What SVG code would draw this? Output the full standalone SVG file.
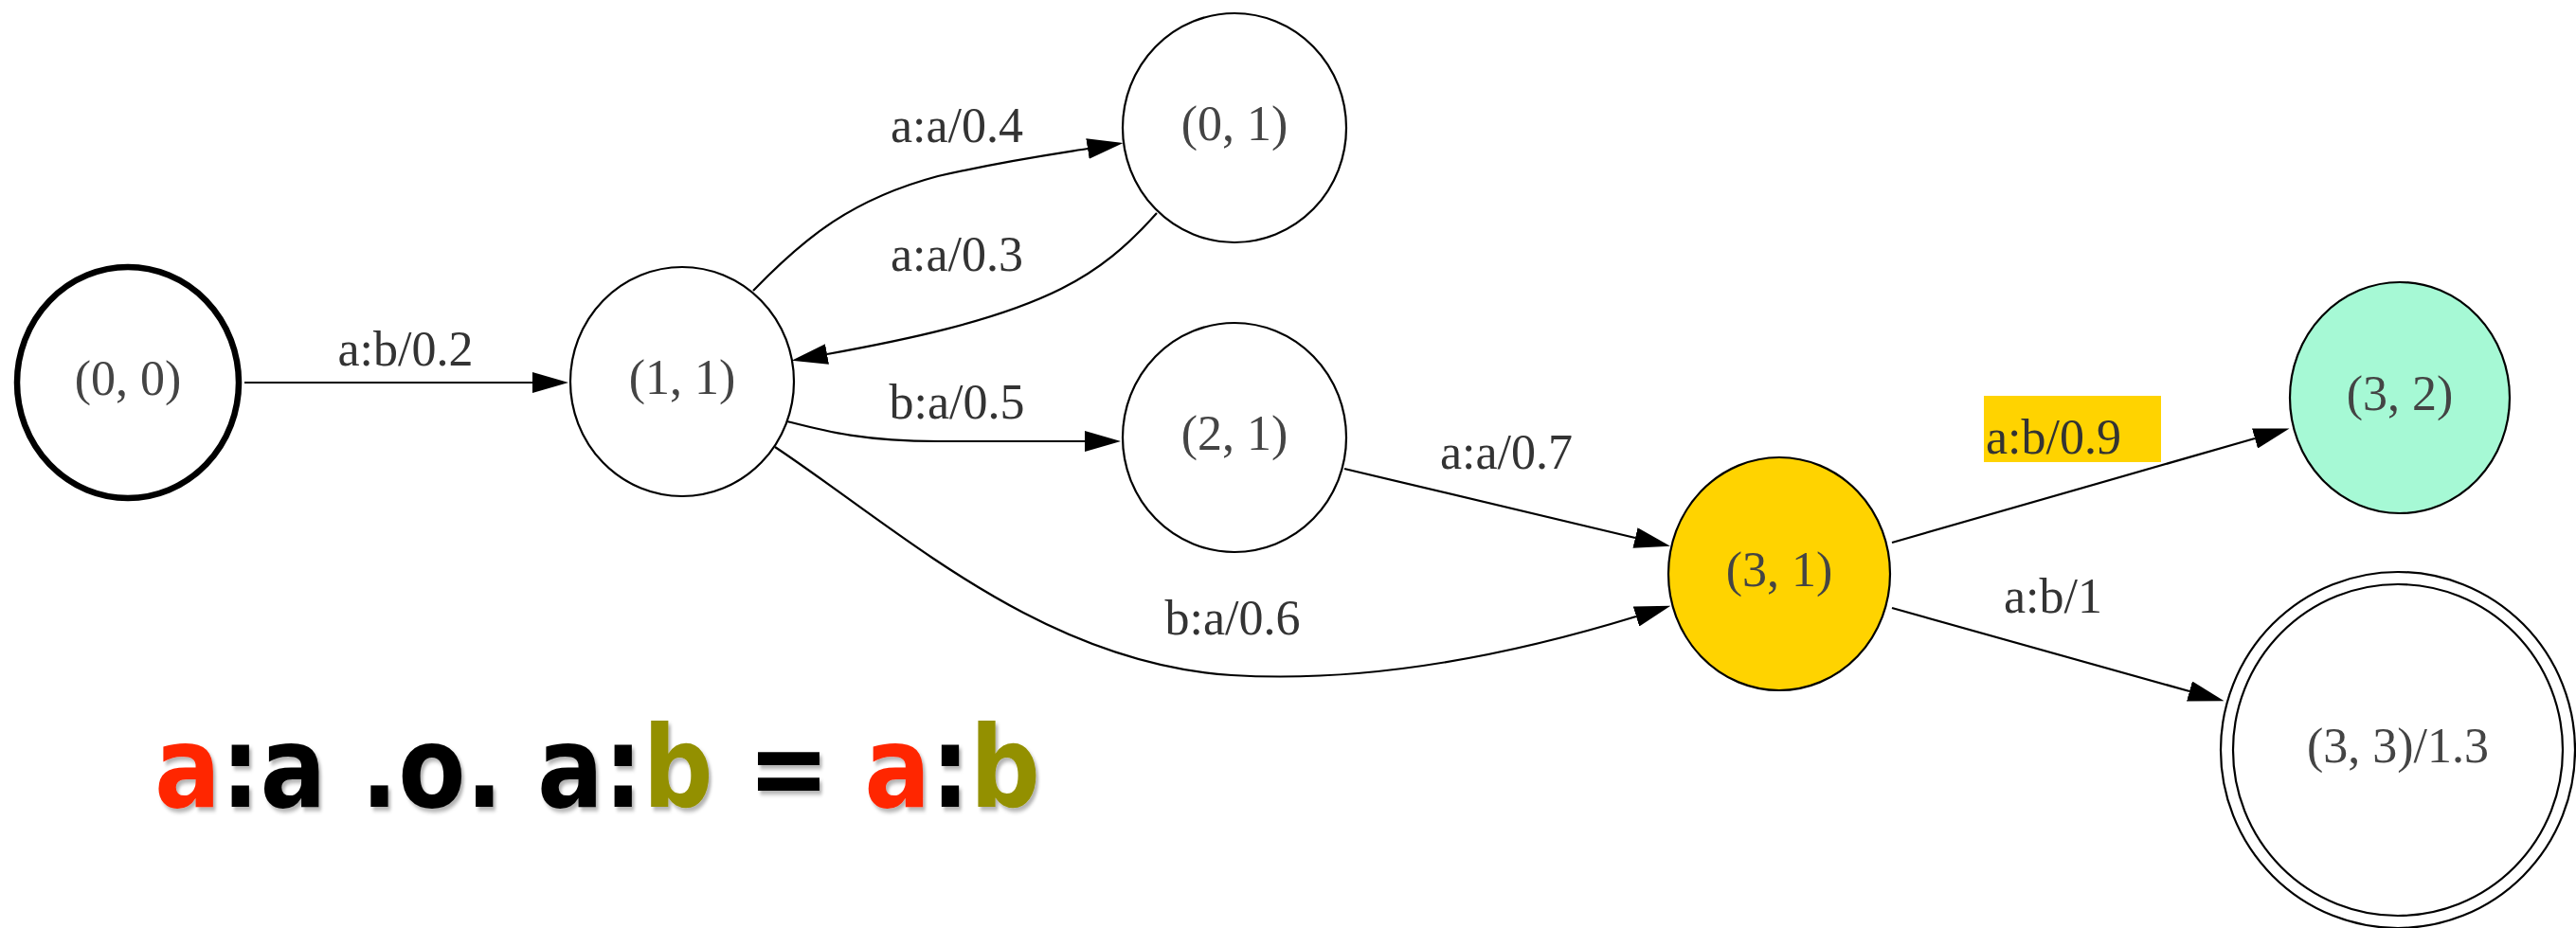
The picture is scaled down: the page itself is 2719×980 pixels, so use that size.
<svg xmlns="http://www.w3.org/2000/svg" width="2719" height="980" viewBox="0 0 2719 980">
<style>
.node{fill:#fff;stroke:#000;stroke-width:2.2}
.nl{font-family:"Liberation Serif","Times New Roman",serif;font-size:52px;fill:#444;text-anchor:middle}
.el{font-family:"Liberation Serif","Times New Roman",serif;font-size:52px;fill:#333;text-anchor:middle}
.edge{fill:none;stroke:#000;stroke-width:2.2}
.formula{font-family:"DejaVu Sans","Noto Sans",sans-serif;font-weight:bold;font-size:120px}
</style>
<defs>
<marker id="arr" viewBox="0 0 38 22" refX="0" refY="11" markerWidth="38" markerHeight="22" markerUnits="userSpaceOnUse" orient="auto">
<path d="M0,0 L38,11 L0,22 Z" fill="#000"/>
</marker>
<filter id="sh" x="-5%" y="-20%" width="110%" height="140%">
<feDropShadow dx="3" dy="4" stdDeviation="2" flood-color="#000" flood-opacity="0.3"/>
</filter>
</defs>
<rect width="2719" height="980" fill="#fff"/>

<g id="connectors">
<path class="edge" d="M258,404 L562,404" marker-end="url(#arr)"/>
<path class="edge" d="M795,307 C850,250 900,210 990,186 C1060,170 1110,163 1148,157" marker-end="url(#arr)"/>
<path class="edge" d="M1221,225 C1190,260 1160,285 1120,305 C1050,340 950,360 873,374" marker-end="url(#arr)"/>
<path class="edge" d="M831,445 C870,455 910,466 990,466 L1145,466" marker-end="url(#arr)"/>
<path class="edge" d="M1419,495 L1726,568" marker-end="url(#arr)"/>
<path class="edge" d="M818,472 C950,560 1100,700 1300,713 C1450,722 1600,690 1727,651" marker-end="url(#arr)"/>
<path class="edge" d="M1997,573 L2380,463" marker-end="url(#arr)"/>
<path class="edge" d="M1997,642 L2311,730" marker-end="url(#arr)"/>
<text class="el" x="428" y="386">a:b/0.2</text>
<text class="el" x="1010" y="150">a:a/0.4</text>
<text class="el" x="1010" y="286">a:a/0.3</text>
<text class="el" x="1010" y="442">b:a/0.5</text>
<text class="el" x="1590" y="495">a:a/0.7</text>
<text class="el" x="1301" y="670">b:a/0.6</text>
<rect x="2094" y="418" width="187" height="70" fill="#ffd300"/>
<text class="el" x="2096" y="479" style="text-anchor:start">a:b/0.9</text>
<text class="el" x="2167" y="647">a:b/1</text>
</g>

<g id="n00">
<ellipse cx="135" cy="404" rx="117" ry="122" fill="#fff" stroke="#000" stroke-width="6.5"/>
<text class="nl" x="135" y="417">(0, 0)</text>
</g>
<g id="n11">
<ellipse class="node" cx="720" cy="403" rx="118" ry="121"/>
<text class="nl" x="720" y="416">(1, 1)</text>
</g>
<g id="n01">
<ellipse class="node" cx="1303" cy="135" rx="118" ry="121"/>
<text class="nl" x="1303" y="148">(0, 1)</text>
</g>
<g id="n21">
<ellipse class="node" cx="1303" cy="462" rx="118" ry="121"/>
<text class="nl" x="1303" y="475">(2, 1)</text>
</g>
<g id="n31">
<ellipse class="node" cx="1878" cy="606" rx="117" ry="123" style="fill:#ffd300"/>
<text class="nl" x="1878" y="619">(3, 1)</text>
</g>
<g id="n32">
<ellipse class="node" cx="2533" cy="420" rx="116" ry="122" style="fill:#a6f9d5"/>
<text class="nl" x="2533" y="433">(3, 2)</text>
</g>
<g id="n33">
<ellipse class="node" cx="2531" cy="792" rx="187" ry="188"/>
<ellipse class="node" cx="2531" cy="792" rx="174" ry="175"/>
<text class="nl" x="2531" y="805">(3, 3)/1.3</text>
</g>

<g transform="translate(163,852) scale(0.865,1)" filter="url(#sh)">
<text class="formula" x="0" y="0"><tspan fill="#ff2600">a</tspan><tspan fill="#000">:a .o. a:</tspan><tspan fill="#939000">b</tspan><tspan fill="#000"> = </tspan><tspan fill="#ff2600">a</tspan><tspan fill="#000">:</tspan><tspan fill="#939000">b</tspan></text>
</g>
</svg>
